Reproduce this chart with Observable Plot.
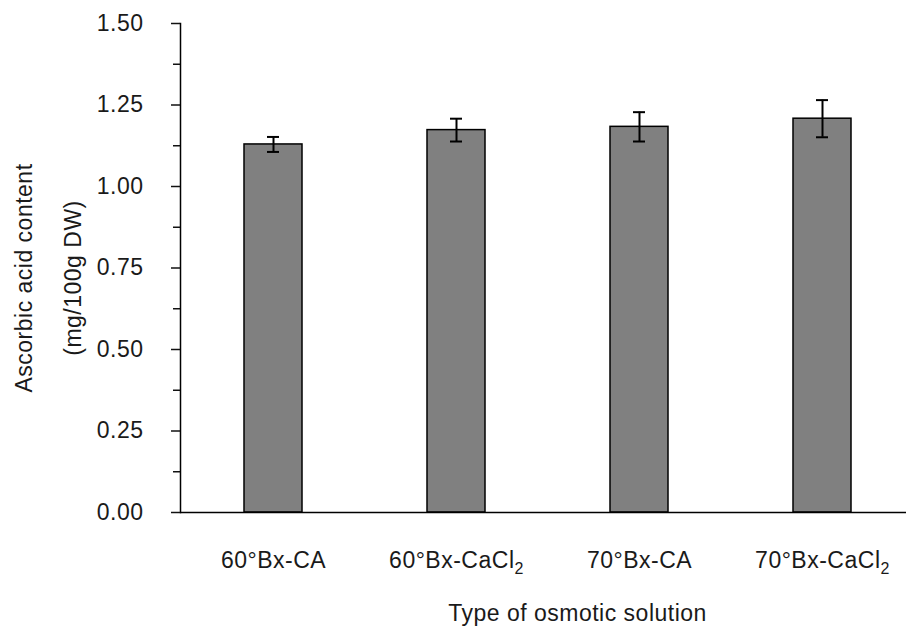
<!DOCTYPE html>
<html>
<head>
<meta charset="utf-8">
<script src="https://cdn.jsdelivr.net/npm/d3@7"></script>
<script src="https://cdn.jsdelivr.net/npm/@observablehq/plot@0.6"></script>
<style>
  html, body { margin: 0; padding: 0; background: #fff; }
  #chart svg { display: block; }
  #chart svg text { font-size: 23px !important; font-family: 'Liberation Sans', Arial, sans-serif !important; letter-spacing: 0.5px; fill: #1a1a1a; }
  #chart svg text tspan.sub { font-size: 16px !important; }
</style>
</head>
<body>
<div id="chart"></div>
<script>
const categories = ["60°Bx-CA", "60°Bx-CaCl₂", "70°Bx-CA", "70°Bx-CaCl₂"];
const values = [1.129, 1.173, 1.183, 1.208];
const errors = [0.023, 0.035, 0.045, 0.057];
const majorTicks = [0, 0.25, 0.5, 0.75, 1.0, 1.25, 1.5];
const minorTicks = [0.125, 0.375, 0.625, 0.875, 1.125, 1.375];
const yLabelLines = ["Ascorbic acid content", "(mg/100g DW)"];
const xLabel = "Type of osmotic solution";

const data = categories.map((c, i) => ({cat: c, v: values[i], e: errors[i]}));

const chart = Plot.plot({
  width: 906,
  height: 630,
  marginLeft: 180,
  marginRight: 0,
  marginTop: 23,
  marginBottom: 118,
  style: {color: "#111", background: "#fff"},
  x: {domain: categories, range: [180.3, 915.5], paddingInner: 0.684, paddingOuter: 0.342},
  y: {domain: [0, 1.5]},
  marks: [
    Plot.barY(data, {x: "cat", y: "v", fill: "#808080", stroke: "#000", strokeWidth: 1.5}),
    Plot.ruleX(data, {x: "cat", y1: d => d.v - d.e, y2: d => d.v + d.e, stroke: "#000", strokeWidth: 2}),
    Plot.tickY(data, {x: "cat", y: d => d.v - d.e, stroke: "#000", strokeWidth: 2, inset: 23}),
    Plot.tickY(data, {x: "cat", y: d => d.v + d.e, stroke: "#000", strokeWidth: 2, inset: 23}),
    Plot.ruleY([0], {stroke: "#000", strokeWidth: 1.5}),
    Plot.frame({anchor: "left", stroke: "#000", strokeWidth: 1.5}),
    Plot.axisY(majorTicks, {tickSize: 9, tickPadding: 28, tickFormat: d => d.toFixed(2), strokeWidth: 1.5, label: null}),
    Plot.axisY(minorTicks, {tickSize: 7, tickFormat: () => "", strokeWidth: 1.5, label: null}),
    Plot.axisX({tickSize: 0, tickPadding: 39, label: null}),
    Plot.text([yLabelLines[0]], {frameAnchor: "left", textAnchor: "middle", text: d => d, rotate: -90, dx: -156, dy: 10}),
    Plot.text([yLabelLines[1]], {frameAnchor: "left", textAnchor: "middle", text: d => d, rotate: -90, dx: -107, dy: 10}),
    Plot.text([xLabel], {frameAnchor: "bottom", text: d => d, dx: 34, dy: 108})
  ]
});
// render the chemical subscript as a lowered, smaller "2"
chart.querySelectorAll("text").forEach(t => {
  const nodes = t.querySelectorAll("tspan").length ? t.querySelectorAll("tspan") : [t];
  nodes.forEach(n => {
    if (n.textContent.includes("₂") && !n.querySelector("tspan")) {
      const parts = n.textContent.split("₂");
      n.textContent = parts[0];
      const s = document.createElementNS("http://www.w3.org/2000/svg", "tspan");
      s.setAttribute("class", "sub");
      s.setAttribute("dy", "6");
      s.textContent = "2";
      n.appendChild(s);
    }
  });
});
document.getElementById("chart").appendChild(chart);
</script>
</body>
</html>
